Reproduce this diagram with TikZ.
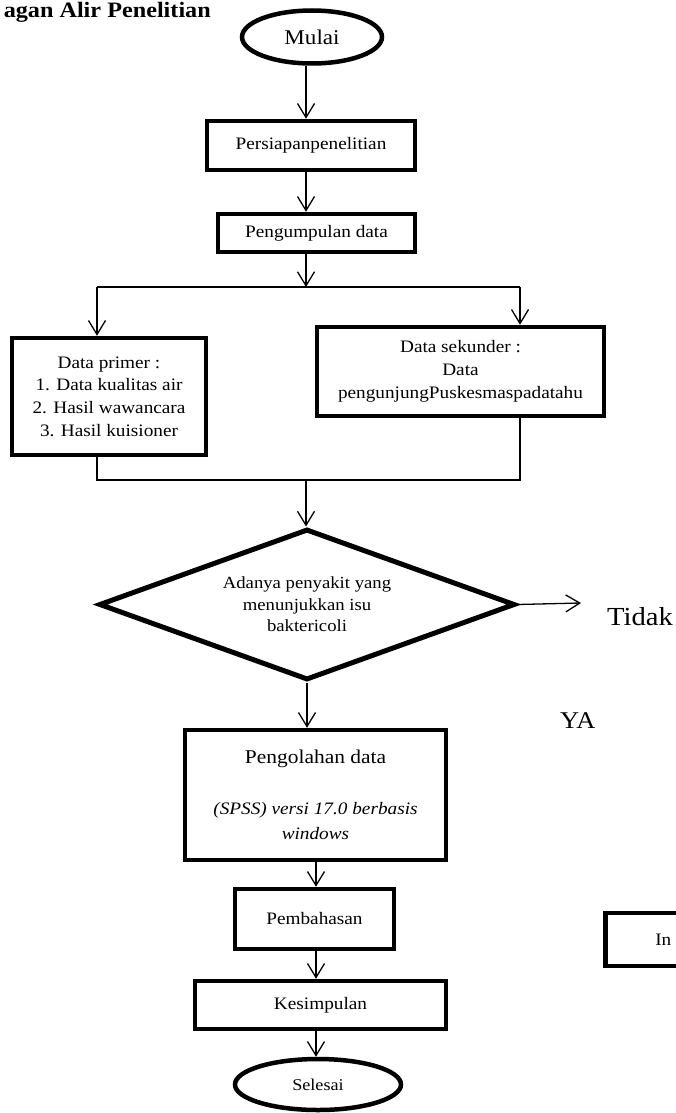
\documentclass[tikz,border=0pt]{standalone}
\usepackage{fontspec}
\setmainfont{Liberation Serif}[FakeStretch=1.1]
\usetikzlibrary{arrows.meta,shapes.geometric,calc}
\begin{document}
\begin{tikzpicture}[x=1pt,y=-1pt,
  box/.style={draw, rectangle, line width=4.5pt, inner sep=0pt, align=center, font=\fontsize{17.5}{22.7}\selectfont},
  oval/.style={draw, ellipse, line width=4.5pt, inner sep=0pt},
  arr/.style={line width=1.3pt, -{Straight Barb[length=14pt,width=17pt,line width=1.3pt]}},
  ln/.style={line width=1.3pt}]
\useasboundingbox (0,0) rectangle (676,1113);
\clip (0,0) rectangle (676,1113);

\node[anchor=base east, inner sep=0pt, font=\fontsize{22}{26}\selectfont\bfseries] (title) at (211,18) {agan Alir Penelitian};

\coordinate (sp) at (306,0);
\coordinate (sp2) at (316,0);

\node[oval, minimum width=140, minimum height=53, font=\fontsize{21}{25}\selectfont] (mulai) at (312,37) {Mulai};
\node[box, minimum width=208, minimum height=49] (persiapan) at (311,145.5) {Persiapanpenelitian};
\node[box, minimum width=197, minimum height=38] (kumpul) at (316.5,233) {Pengumpulan data};

\coordinate (split) at (306,287);
\coordinate (lsplit) at (97,287);
\coordinate (rsplit) at (520,287);

\node[box, minimum width=194, minimum height=117] (primer) at (109,396.5) {Data primer :\\1. Data kualitas air\\2. Hasil wawancara\\3. Hasil kuisioner};
\node[box, minimum width=287, minimum height=89] (sekunder) at (460.5,371.5) {Data sekunder :\\Data\\pengunjungPuskesmaspadatahu};

\coordinate (lmerge) at (97,480);
\coordinate (rmerge) at (520,480);
\coordinate (merge) at (306,480);

\node[draw, diamond, line width=5pt, aspect=2.8, minimum width=416, minimum height=151, inner sep=0pt, align=center, font=\fontsize{17}{21.5}\selectfont] (dia) at (307,604.5) {Adanya penyakit yang\\menunjukkan isu\\baktericoli};

\coordinate (tidakarr) at (581,603);
\node[anchor=base west, inner sep=0pt, font=\fontsize{26}{30}\selectfont] (tidak) at (607,625) {Tidak};
\node[anchor=base west, inner sep=0pt, font=\fontsize{24}{28}\selectfont] (ya) at (560,728) {YA};

\node[box, minimum width=261, minimum height=130, font=\fontsize{19.5}{25}\selectfont] (olah) at (315.5,795) {Pengolahan data\\[26pt]{\fontsize{17.5}{25}\selectfont\itshape (SPSS) versi 17.0 berbasis}\\{\fontsize{17.5}{25}\selectfont\itshape windows}};
\node[box, minimum width=159, minimum height=60] (bahas) at (314.5,919) {Pembahasan};
\node[box, minimum width=251, minimum height=48] (simpul) at (320.5,1005) {Kesimpulan};
\node[oval, minimum width=166, minimum height=51, font=\fontsize{16.5}{20}\selectfont] (selesai) at (318,1084.5) {Selesai};

\node[box, anchor=west, minimum height=53, text width=100, inner xsep=50, align=left] (inbox) at (603,939.5) {In};

\draw[arr] (mulai.south -| sp) -- (persiapan.north -| sp);
\draw[arr] (persiapan.south -| sp) -- (kumpul.north -| sp);
\draw[arr] (kumpul.south -| sp) -- (split);
\draw[ln] (lsplit) -- (rsplit);
\draw[arr] (lsplit) -- (lsplit |- primer.north);
\draw[arr] (rsplit) -- (rsplit |- sekunder.north);
\draw[ln] (lsplit |- primer.south) -- (lmerge) -- (rmerge) -- (rsplit |- sekunder.south);
\draw[arr] (merge) -- (merge |- dia.north);
\draw[arr] (dia.east) -- (tidakarr);
\draw[arr] (dia.south) -- (dia.south |- olah.north);
\draw[arr] (olah.south -| sp2) -- (bahas.north -| sp2);
\draw[arr] (bahas.south -| sp2) -- (simpul.north -| sp2);
\draw[arr] (simpul.south -| sp2) -- (selesai.north -| sp2);
\end{tikzpicture}
\end{document}
